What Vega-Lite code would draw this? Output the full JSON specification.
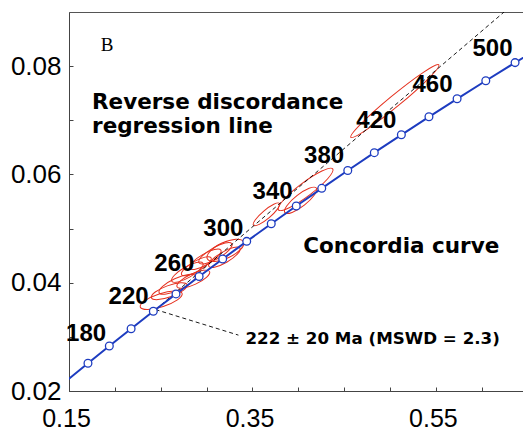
{
  "$schema": "https://vega.github.io/schema/vega-lite/v6.json",
  "autosize": "none",
  "width": 455,
  "height": 379,
  "padding": {"left": 69, "top": 12, "right": 0, "bottom": 43},
  "background": "white",
  "config": {
    "view": {"stroke": "#555", "strokeWidth": 1},
    "axis": {"grid": false, "domainColor": "#444", "tickColor": "#444", "labelColor": "#000", "labelFont": "Liberation Sans", "labelFontSize": 26, "title": null}
  },
  "datasets": {
    "concordia": [
      {"age": 140, "x": 0.14784, "y": 0.02196},
      {"age": 160, "x": 0.17068, "y": 0.02513},
      {"age": 180, "x": 0.19396, "y": 0.02832},
      {"age": 200, "x": 0.21771, "y": 0.03151},
      {"age": 220, "x": 0.24193, "y": 0.03472},
      {"age": 240, "x": 0.26664, "y": 0.03793},
      {"age": 260, "x": 0.29183, "y": 0.04116},
      {"age": 280, "x": 0.31753, "y": 0.04439},
      {"age": 300, "x": 0.34374, "y": 0.04764},
      {"age": 320, "x": 0.37047, "y": 0.05089},
      {"age": 340, "x": 0.39773, "y": 0.05416},
      {"age": 360, "x": 0.42553, "y": 0.05743},
      {"age": 380, "x": 0.45389, "y": 0.06072},
      {"age": 400, "x": 0.48281, "y": 0.06402},
      {"age": 420, "x": 0.51231, "y": 0.06732},
      {"age": 440, "x": 0.54239, "y": 0.07064},
      {"age": 460, "x": 0.57307, "y": 0.07397},
      {"age": 480, "x": 0.60436, "y": 0.0773},
      {"age": 500, "x": 0.63628, "y": 0.08065},
      {"age": 520, "x": 0.66883, "y": 0.084}
    ],
    "ellipses": [
      {"x": 0.2505, "y": 0.03677, "major": 44, "ratio": "0.3", "tilt": 18},
      {"x": 0.2593, "y": 0.03843, "major": 38, "ratio": "0.3", "tilt": 20},
      {"x": 0.268, "y": 0.03972, "major": 40, "ratio": "0.3", "tilt": 25},
      {"x": 0.2855, "y": 0.04065, "major": 36, "ratio": "0.3", "tilt": 25},
      {"x": 0.279, "y": 0.04194, "major": 36, "ratio": "0.3", "tilt": 30},
      {"x": 0.2888, "y": 0.04304, "major": 34, "ratio": "0.3", "tilt": 30},
      {"x": 0.2986, "y": 0.04433, "major": 36, "ratio": "0.3", "tilt": 30},
      {"x": 0.3096, "y": 0.04544, "major": 38, "ratio": "0.3", "tilt": 30},
      {"x": 0.3205, "y": 0.04599, "major": 40, "ratio": "0.4", "tilt": 25},
      {"x": 0.3194, "y": 0.0447, "major": 36, "ratio": "0.3", "tilt": 30},
      {"x": 0.3653, "y": 0.05263, "major": 34, "ratio": "0.25", "tilt": 40},
      {"x": 0.4025, "y": 0.05521, "major": 40, "ratio": "0.3", "tilt": 38},
      {"x": 0.4079, "y": 0.05724, "major": 68, "ratio": "0.2", "tilt": 37},
      {"x": 0.5052, "y": 0.07355, "major": 114, "ratio": "0.1", "tilt": 39.5}
    ],
    "dashed": [
      {"seg": "regression", "x": 0.24438, "y": 0.03504},
      {"seg": "regression", "x": 0.6243, "y": 0.09},
      {"seg": "leader", "x": 0.24438, "y": 0.03504},
      {"seg": "leader", "x": 0.3347, "y": 0.03032}
    ],
    "ages": [
      {"label": "180", "x": 0.1686, "y": 0.02931},
      {"label": "220", "x": 0.215, "y": 0.03613},
      {"label": "260", "x": 0.2648, "y": 0.04221},
      {"label": "300", "x": 0.3183, "y": 0.04866},
      {"label": "340", "x": 0.3719, "y": 0.05548},
      {"label": "380", "x": 0.4281, "y": 0.06212},
      {"label": "420", "x": 0.485, "y": 0.06857},
      {"label": "460", "x": 0.5462, "y": 0.07521},
      {"label": "500", "x": 0.6117, "y": 0.08184}
    ],
    "notes": [
      {"label": "Reverse discordance", "x": 0.1751, "y": 0.07211},
      {"label": "regression line", "x": 0.1751, "y": 0.06756},
      {"label": "Concordia curve", "x": 0.4054, "y": 0.04544}
    ],
    "result": [
      {"label": "222 ± 20 Ma (MSWD = 2.3)", "x": 0.3423, "y": 0.02861}
    ],
    "panel": [
      {"label": "B", "x": 0.1845, "y": 0.08286}
    ]
  },
  "encoding": {
    "x": {"field": "x", "type": "quantitative", "scale": {"domain": [0.15, 0.646], "nice": false, "zero": false},
      "axis": {"values": [0.15, 0.2, 0.25, 0.3, 0.35, 0.4, 0.45, 0.5, 0.55, 0.6], "labelExpr": "datum.value == 0.15 || datum.value == 0.35 || datum.value == 0.55 ? format(datum.value, '.2f') : ''", "tickSize": -4, "labelPadding": 19, "labelFontSize": 25, "labelFlush": false, "labelOverlap": false, "labelOffset": -3}},
    "y": {"field": "y", "type": "quantitative", "scale": {"domain": [0.02, 0.09], "nice": false, "zero": false},
      "axis": {"values": [0.02, 0.03, 0.04, 0.05, 0.06, 0.07, 0.08], "labelExpr": "datum.value == 0.02 || datum.value == 0.04 || datum.value == 0.06 || datum.value == 0.08 ? format(datum.value, '.2f') : ''", "tickSize": -4, "labelPadding": 12, "labelOverlap": false, "labelFlush": false}}
  },
  "layer": [
    {
      "data": {"name": "ellipses"},
      "mark": {"type": "point", "filled": false, "color": "#e5301e", "strokeWidth": 1, "opacity": 1},
      "encoding": {
        "size": {"field": "major", "type": "quantitative", "scale": {"type": "pow", "exponent": 2, "domain": [0, 120], "range": [0, 14400]}, "legend": null},
        "shape": {"field": "ratio", "type": "nominal", "legend": null, "scale": {"domain": ["0.1", "0.2", "0.25", "0.3", "0.4"], "range": [
          "M1,0C1,0.0552 0.5523,0.1 0,0.1C-0.5523,0.1 -1,0.0552 -1,0C-1,-0.0552 -0.5523,-0.1 0,-0.1C0.5523,-0.1 1,-0.0552 1,0Z",
          "M1,0C1,0.1105 0.5523,0.2 0,0.2C-0.5523,0.2 -1,0.1105 -1,0C-1,-0.1105 -0.5523,-0.2 0,-0.2C0.5523,-0.2 1,-0.1105 1,0Z",
          "M1,0C1,0.1381 0.5523,0.25 0,0.25C-0.5523,0.25 -1,0.1381 -1,0C-1,-0.1381 -0.5523,-0.25 0,-0.25C0.5523,-0.25 1,-0.1381 1,0Z",
          "M1,0C1,0.1657 0.5523,0.3 0,0.3C-0.5523,0.3 -1,0.1657 -1,0C-1,-0.1657 -0.5523,-0.3 0,-0.3C0.5523,-0.3 1,-0.1657 1,0Z",
          "M1,0C1,0.2209 0.5523,0.4 0,0.4C-0.5523,0.4 -1,0.2209 -1,0C-1,-0.2209 -0.5523,-0.4 0,-0.4C0.5523,-0.4 1,-0.2209 1,0Z"
        ]}},
        "angle": {"field": "tilt", "type": "quantitative", "scale": {"domain": [0, 90], "range": [360, 270]}, "legend": null}
      }
    },
    {
      "data": {"name": "dashed"},
      "mark": {"type": "line", "color": "#000", "strokeWidth": 0.9, "strokeDash": [4, 3], "clip": true},
      "encoding": {"detail": {"field": "seg", "type": "nominal"}}
    },
    {
      "data": {"name": "concordia"},
      "mark": {"type": "line", "color": "#1d3cc0", "strokeWidth": 2, "clip": true},
      "encoding": {"order": {"field": "age", "type": "quantitative"}}
    },
    {
      "data": {"name": "concordia"},
      "transform": [{"filter": "datum.age >= 160 && datum.age <= 500"}],
      "mark": {"type": "point", "shape": "circle", "filled": true, "fill": "white", "stroke": "#1d3cc0", "strokeWidth": 1.3, "size": 60, "opacity": 1},
      "encoding": {}
    },
    {
      "data": {"name": "ages"},
      "mark": {"type": "text", "font": "Liberation Sans", "fontWeight": "bold", "fontSize": 24, "align": "center", "baseline": "alphabetic", "color": "#000"},
      "encoding": {"text": {"field": "label", "type": "nominal"}}
    },
    {
      "data": {"name": "notes"},
      "mark": {"type": "text", "font": "DejaVu Sans", "fontWeight": "bold", "fontSize": 21.5, "align": "left", "baseline": "alphabetic", "color": "#000"},
      "encoding": {"text": {"field": "label", "type": "nominal"}}
    },
    {
      "data": {"name": "result"},
      "mark": {"type": "text", "font": "DejaVu Sans", "fontWeight": "bold", "fontSize": 16.7, "align": "left", "baseline": "alphabetic", "color": "#000"},
      "encoding": {"text": {"field": "label", "type": "nominal"}}
    },
    {
      "data": {"name": "panel"},
      "mark": {"type": "text", "font": "Liberation Serif", "fontSize": 19, "align": "left", "baseline": "alphabetic", "color": "#000"},
      "encoding": {"text": {"field": "label", "type": "nominal"}}
    }
  ]
}
